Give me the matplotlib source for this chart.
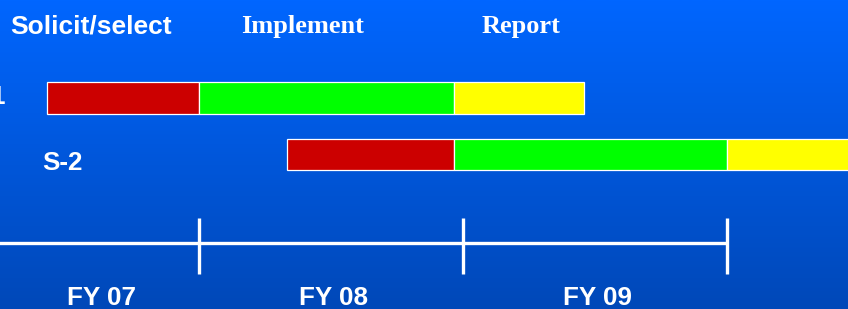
import matplotlib.pyplot as plt
import numpy as np

# months counted from the start of FY 07
projects = ["S-1", "S-2"]
phases = ["Solicit/select", "Implement", "Report"]
phase_colors = ["#CC0000", "#00FF00", "#FFFF00"]
# phase boundaries per project: start, end of solicit, end of implement, end of report
s1_bounds = [5.1, 12.0, 23.6, 29.5]
s2_bounds = [16.0, 23.6, 36.0, 42.0]
fy_labels = ["FY 07", "FY 08", "FY 09"]
fy_label_pos = [7.55, 18.1, 30.1]
fy_edges = [12, 24, 36]

fig = plt.figure(figsize=(8.48, 3.09), dpi=100)
ax = fig.add_axes([0, 0, 1, 1])
ax.set_xlim(2.955, 41.5)
ax.set_ylim(3.735, -1.735)
ax.axis("off")

# blue gradient background
top = np.array([0, 102, 255]) / 255
bot = np.array([0, 72, 184]) / 255
t = np.linspace(0, 1, 256)[:, None]
grad = (top * (1 - t) + bot * t)[:, None, :]
ax.imshow(grad, extent=[0, 1, 0, 1], transform=ax.transAxes,
          aspect="auto", zorder=0, origin="upper")

## gantt bars
for row, bounds in enumerate([s1_bounds, s2_bounds]):
    for i in range(3):
        ax.barh(row, bounds[i + 1] - bounds[i], left=bounds[i], height=0.566,
                color=phase_colors[i], edgecolor="white", linewidth=0.9, zorder=2)

# row labels
ax.text(3.23, 0.106, projects[0], color="white", fontsize=18.7,
        fontweight="bold", family="Liberation Sans", ha="right", va="baseline")
ax.text(4.86, 1.274, projects[1], color="white", fontsize=18.7,
        fontweight="bold", family="Liberation Sans", ha="left", va="baseline")

# phase headers
ax.text(3.41, -1.15, phases[0], color="white", fontsize=19,
        fontweight="bold", family="Liberation Sans", ha="left", va="baseline")
ax.text(13.9, -1.15, phases[1], color="white", fontsize=19,
        fontweight="bold", family="Liberation Serif", ha="left", va="baseline")
ax.text(24.86, -1.15, phases[2], color="white", fontsize=19,
        fontweight="bold", family="Liberation Serif", ha="left", va="baseline")

## fiscal year timeline
ax.plot([ax.get_xlim()[0] - 1, fy_edges[-1]], [2.566, 2.566], color="white",
        linewidth=2.4, solid_capstyle="butt", zorder=3)
for x in fy_edges:
    ax.plot([x, x], [2.124, 3.115], color="white", linewidth=2.4,
            solid_capstyle="butt", zorder=3)
for x, lab in zip(fy_label_pos, fy_labels):
    ax.text(x, 3.664, lab, color="white", fontsize=18.7, fontweight="bold",
            family="Liberation Sans", ha="center", va="baseline")

fig.savefig("out.png", dpi=100)
